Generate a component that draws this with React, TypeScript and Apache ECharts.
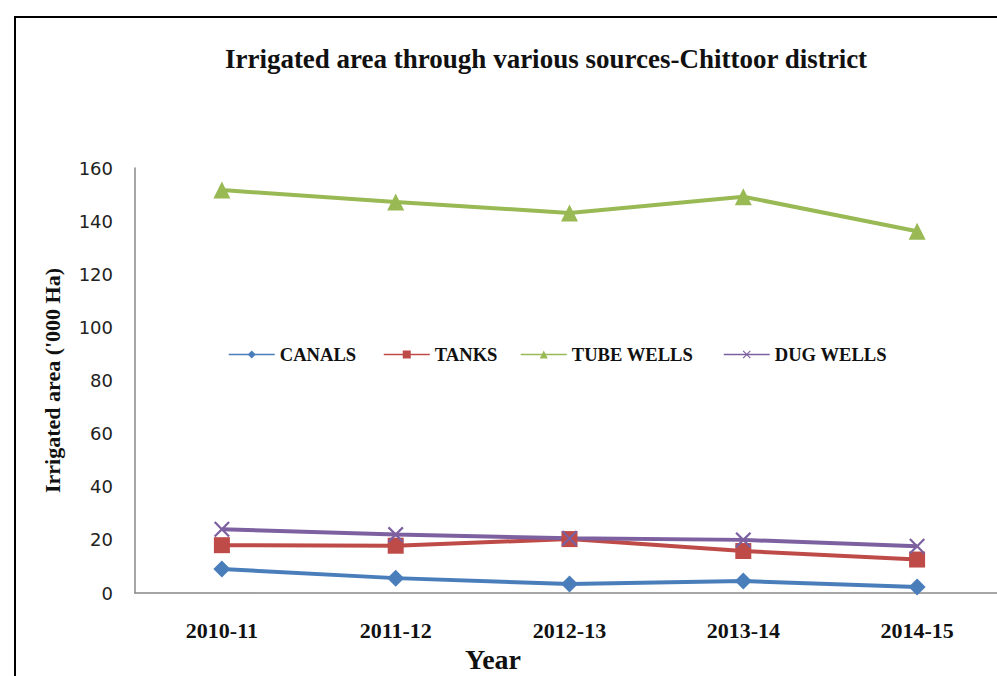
import React, { useEffect, useRef } from "react";
import * as echarts from "echarts";

const categories = ["2010-11", "2011-12", "2012-13", "2013-14", "2014-15"];
const canals = [9, 5.6, 3.4, 4.5, 2.3];
const tanks = [18, 17.8, 20.3, 15.8, 12.6];
const tubeWells = [151.7, 147.2, 143.1, 149.2, 136.2];
const dugWells = [24, 22, 20.6, 20, 17.6];
const yTicks = { min: 0, max: 160, interval: 20 };

const SERIF = "'Liberation Serif', 'Times New Roman', serif";
const CROSS = "path://M0,1L1,0L5,4L9,0L10,1L6,5L10,9L9,10L5,6L1,10L0,9L4,5Z";

export default function App() {
  const ref = useRef<HTMLDivElement>(null);
  useEffect(() => {
    const chart = echarts.init(ref.current!, null, { renderer: "svg" });
    const mk = (name: string, data: number[], color: string, symbol: string, size: number) => ({
      name,
      type: "line",
      data,
      symbol,
      symbolSize: size,
      lineStyle: { color, width: 4 },
      itemStyle: { color },
    });
    const legendText = { fontFamily: SERIF, fontWeight: "bold", fontSize: 18.6, color: "#111" };
    const leg = (name: string, left: number) => ({
      data: [name],
      left,
      top: 345,
      padding: 0,
      itemWidth: 46,
      itemHeight: 10,
      itemGap: 0,
      textStyle: legendText,
      lineStyle: { width: 1.5 },
    });
    chart.setOption({
      animation: false,
      title: {
        text: "Irrigated area through various sources-Chittoor district",
        left: 541,
        textAlign: "center",
        top: 40,
        textStyle: { fontFamily: SERIF, fontWeight: "bold", fontSize: 27, color: "#111" },
      },
      legend: [
        leg("CANALS", 228),
        leg("TANKS", 383),
        leg("TUBE WELLS", 520),
        leg("DUG WELLS", 723),
      ],
      grid: { left: 135, top: 168, width: 869, height: 425, outerBoundsMode: "none", containLabel: false },
      xAxis: {
        type: "category",
        data: categories,
        boundaryGap: true,
        axisLine: { lineStyle: { color: "#888", width: 1.5 } },
        axisTick: { show: false },
        axisLabel: { fontFamily: SERIF, fontWeight: "bold", fontSize: 22, color: "#111", margin: 26 },
      },
      yAxis: {
        type: "value",
        min: yTicks.min,
        max: yTicks.max,
        interval: yTicks.interval,
        axisLine: { show: true, lineStyle: { color: "#888", width: 1.5 } },
        axisTick: { show: false },
        splitLine: { show: false },
        axisLabel: { fontFamily: "'DejaVu Sans', sans-serif", fontSize: 18, color: "#222", margin: 22 },
        name: "Irrigated area ('000 Ha)",
        nameLocation: "middle",
        nameGap: 72,
        nameTextStyle: { fontFamily: SERIF, fontWeight: "bold", fontSize: 22, color: "#111" },
      },
      graphic: [
        {
          type: "rect",
          shape: { x: 15, y: 17, width: 1100, height: 800 },
          style: { fill: "none", stroke: "#000", lineWidth: 2 },
          silent: true,
        },
        {
          type: "text",
          x: 493,
          y: 645,
          style: {
            text: "Year",
            fontFamily: SERIF,
            fontWeight: "bold",
            fontSize: 28,
            fill: "#111",
            textAlign: "center",
            textVerticalAlign: "top",
          },
          silent: true,
        },
      ],
      series: [
        mk("CANALS", canals, "#4A7EBB", "diamond", 17),
        mk("TANKS", tanks, "#BE4B48", "rect", 16),
        mk("TUBE WELLS", tubeWells, "#98B954", "triangle", 17),
        mk("DUG WELLS", dugWells, "#7D60A0", CROSS, 16),
      ],
    });
    return () => chart.dispose();
  }, []);
  return (
    <div
      ref={ref}
      style={{ position: "fixed", left: 0, top: 0, width: 997, height: 676, background: "#fff" }}
    />
  );
}
